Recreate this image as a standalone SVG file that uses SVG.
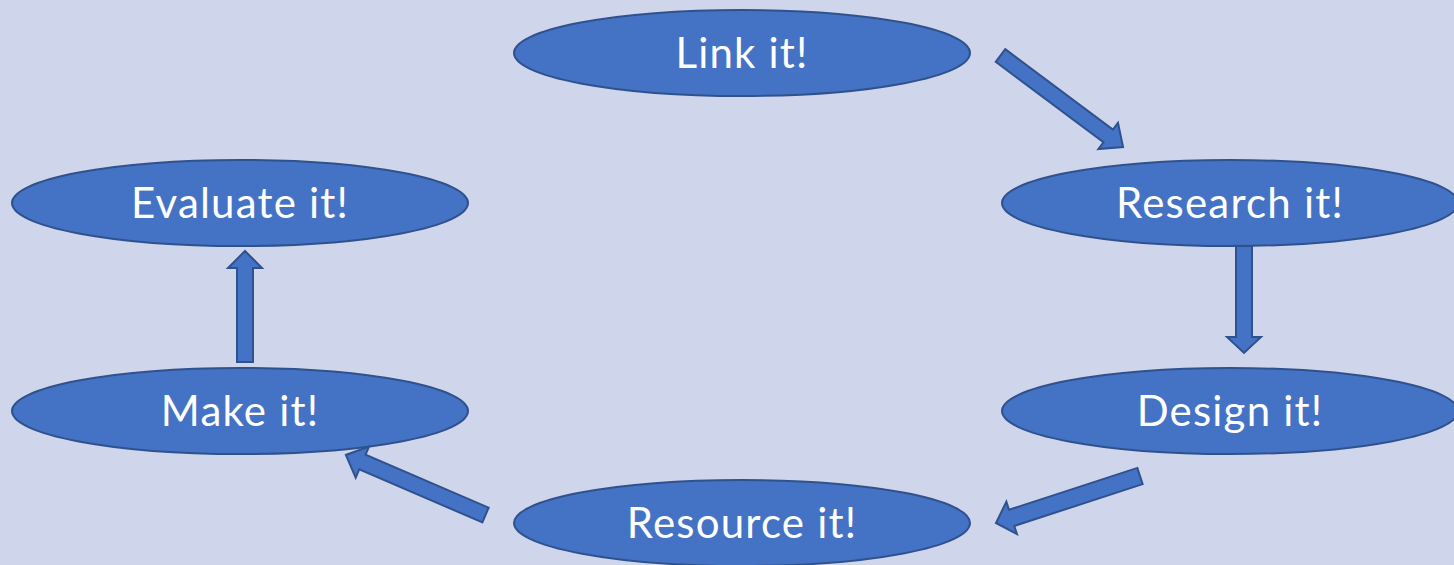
<svg xmlns="http://www.w3.org/2000/svg" width="1454" height="565" viewBox="0 0 1454 565">
<style>
.n{fill:#4472C4;stroke:#2F528F;stroke-width:2}
.t{fill:#fff;font-family:Lato,"Open Sans",sans-serif;font-size:42px;letter-spacing:1.2px;text-anchor:middle}
.a{fill:#4472C4;stroke:#2F528F;stroke-width:2;stroke-linejoin:miter}
</style>
<rect width="1454" height="565" fill="#CFD5EA"/>
<g id="link"><ellipse class="n" cx="742" cy="53" rx="228" ry="43"/><text class="t" x="742" y="68">Link it!</text></g>
<g id="research"><ellipse class="n" cx="1230" cy="203" rx="228" ry="43"/><text class="t" x="1230" y="218">Research it!</text></g>
<g id="design"><ellipse class="n" cx="1230" cy="411" rx="228" ry="43"/><text class="t" x="1230" y="426">Design it!</text></g>
<g id="resource"><ellipse class="n" cx="742" cy="523" rx="228" ry="43"/><text class="t" x="742" y="538">Resource it!</text></g>
<g id="make"><ellipse class="n" cx="240" cy="411" rx="228" ry="43"/><text class="t" x="240" y="426">Make it!</text></g>
<g id="evaluate"><ellipse class="n" cx="240" cy="203" rx="228" ry="43"/><text class="t" x="240" y="218">Evaluate it!</text></g>
<g id="connectors">
<path class="a" transform="translate(1000.5,55.5) rotate(36.76)" d="M0,-7.9 L134.4,-7.9 L134.4,-16.4 L153,0 L134.4,16.4 L134.4,7.9 L0,7.9 Z"/>
<path class="a" transform="translate(1244,246) rotate(90)" d="M0,-8 L91,-8 L91,-17 L107,0 L91,17 L91,8 L0,8 Z"/>
<path class="a" transform="translate(1140,476) rotate(161.93)" d="M0,-8.5 L135,-8.5 L135,-17 L151.5,0 L135,17 L135,8.5 L0,8.5 Z"/>
<path class="a" transform="translate(485.5,515) rotate(-156.73)" d="M0,-8 L134,-8 L134,-17 L152,0 L134,17 L134,8 L0,8 Z"/>
<path class="a" transform="translate(245,362) rotate(-90)" d="M0,-8 L94,-8 L94,-17 L111,0 L94,17 L94,8 L0,8 Z"/>
</g>
</svg>
